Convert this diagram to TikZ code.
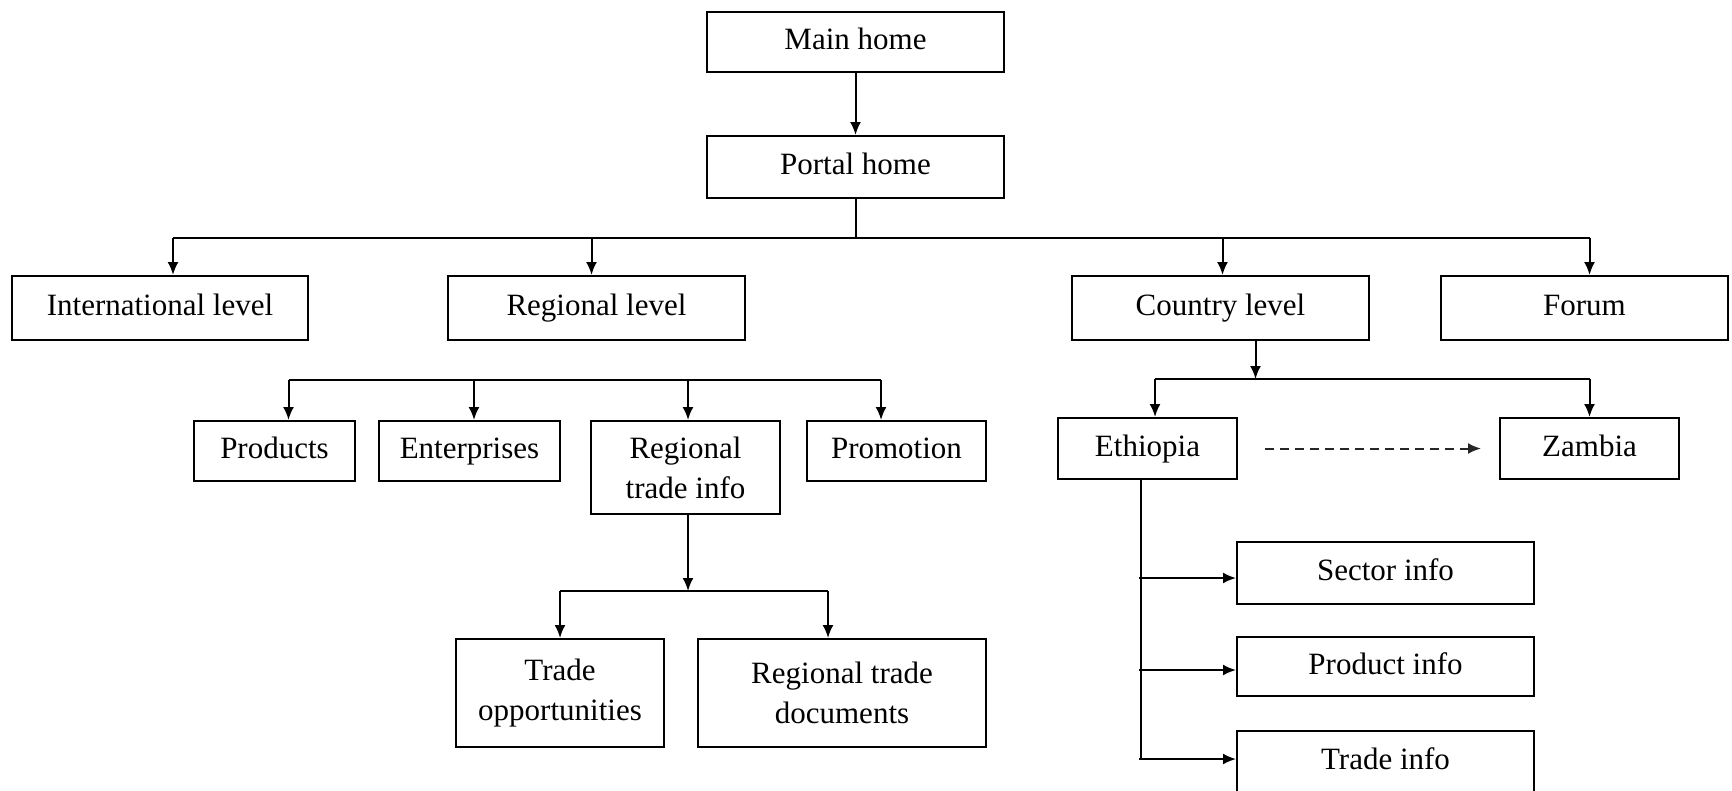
\documentclass[tikz,border=0pt]{standalone}
\usepackage{fontspec}
\setmainfont{Liberation Serif}
\usetikzlibrary{positioning, arrows.meta, calc}

\tikzset{
  page/.style={draw, line width=2pt, inner sep=0pt, minimum height=62,
    align=center, font=\fontsize{31}{40}\selectfont},
  oneline/.style={page, text height=22pt, text depth=7pt},
  line/.style={line width=2pt},
  link/.style={line width=2pt, -{Latex[length=13pt, width=11pt]}},
}

\begin{document}
\begin{tikzpicture}[x=1pt, y=-1pt]
  \useasboundingbox (0,0) rectangle (1732,790);

  % top of the portal
  \node[oneline, minimum width=297, minimum height=60] (main) at (855.5,42) {Main home};
  \node[oneline, minimum width=297] (portal) at (855.5,167) {Portal home};

  % levels
  \node[oneline, minimum width=296, minimum height=64] (intl) at (160,308) {International level};
  \node[oneline, minimum width=297, minimum height=64] (regional) at (596.5,308) {Regional level};
  \node[oneline, minimum width=297, minimum height=64] (country) at (1220.5,308) {Country level};
  \node[oneline, minimum width=287, minimum height=64] (forum) at (1584.5,308) {Forum};

  % regional pages
  \node[oneline, minimum width=161, minimum height=60] (products) at (274.5,451) {Products};
  \node[oneline, minimum width=181, minimum height=60] (enterprises) at (469.5,451) {Enterprises};
  \node[page, minimum width=189, minimum height=93] (rti) at (685.5,467.5) {Regional\\trade info};
  \node[oneline, minimum width=179, minimum height=60] (promotion) at (896.5,451) {Promotion};
  \node[page, minimum width=208, minimum height=108] (tradeopp) at (560,693) {Trade\\opportunities};
  \node[page, minimum width=288, minimum height=108] (rtdocs) at (842,693) {Regional trade\\documents};

  % country pages
  \node[oneline, minimum width=179, minimum height=61] (ethiopia) at (1147.5,448.5) {Ethiopia};
  \node[oneline, minimum width=179, minimum height=61] (zambia) at (1589.5,448.5) {Zambia};
  \node[oneline, minimum width=297] (sector) at (1385.5,573) {Sector info};
  \node[oneline, minimum width=297, minimum height=59] (prodinfo) at (1385.5,666.5) {Product info};
  \node[oneline, minimum width=297] (tradeinfo) at (1385.5,762) {Trade info};

  \draw[link] (main) -- (portal);

  \coordinate (b1) at ($(portal.south)+(0,39)$);
  \draw[line] (portal.south) -- (b1);
  \draw[line] ([xshift=13]intl.north |- b1) -- ([xshift=5]forum.north |- b1);
  \foreach \n/\dx in {intl/13, regional/-5, country/2, forum/5}
    \draw[link] ([xshift=\dx]\n.north |- b1) -- ([xshift=\dx]\n.north);

  \coordinate (b2) at ($(regional.south)+(0,39)$);
  \draw[line] ([xshift=14]products.north |- b2) -- ([xshift=-15.5]promotion.north |- b2);
  \foreach \n/\dx in {products/14, enterprises/4.5, rti/2.5, promotion/-15.5}
    \draw[link] ([xshift=\dx]\n.north |- b2) -- ([xshift=\dx]\n.north);

  \draw[link] ([xshift=2.5]rti.south) -- ++(0,76) coordinate (b4);
  \draw[line] (tradeopp.north |- b4) -- ([xshift=-14]rtdocs.north |- b4);
  \foreach \n/\dx in {tradeopp/0, rtdocs/-14}
    \draw[link] ([xshift=\dx]\n.north |- b4) -- ([xshift=\dx]\n.north);

  \draw[link] ([xshift=35]country.south) -- ++(0,38) coordinate (b3);
  \draw[line] ([xshift=7.5]ethiopia.north |- b3) -- (zambia.north |- b3);
  \foreach \n/\dx in {ethiopia/7.5, zambia/0}
    \draw[link] ([xshift=\dx]\n.north |- b3) -- ([xshift=\dx]\n.north);

  \draw[link, black!85, dash pattern=on 9pt off 6pt]
    ($(ethiopia.east)+(27,0)$) -- ($(zambia.west)+(-18,0)$);

  \coordinate (e1) at ([xshift=-6.5]ethiopia.south);
  \draw[line] (e1) -- ($(e1 |- tradeinfo)+(0,-3)$);
  \foreach \n/\dy in {sector/5, prodinfo/3.5, tradeinfo/-3}
    \draw[link] ($(e1 |- \n.west)+(-2,\dy)$) -- ($(\n.west)+(0,\dy)$);
\end{tikzpicture}
\end{document}
